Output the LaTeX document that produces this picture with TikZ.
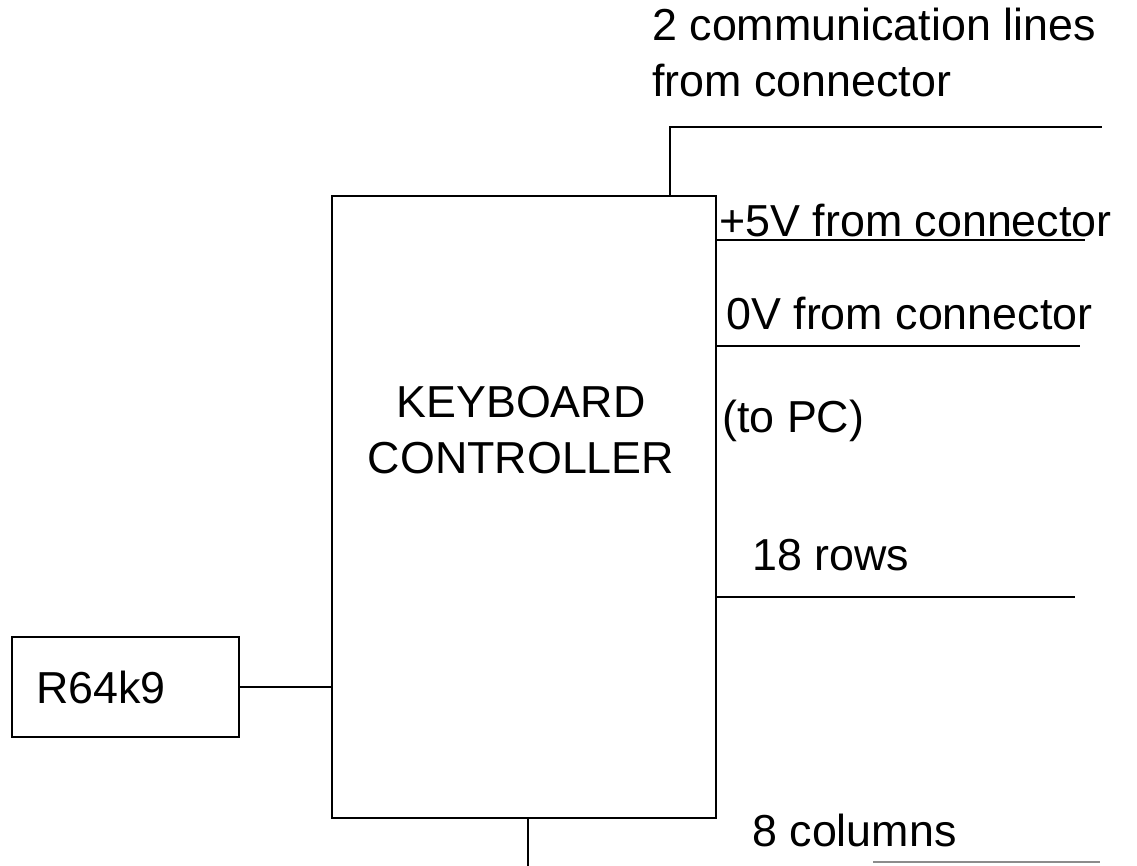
\documentclass[tikz,border=0pt]{standalone}
\usepackage{fontspec}
\setmainfont{Liberation Sans}
\usepackage{tikz}
\usetikzlibrary{positioning}

\begin{document}
\begin{tikzpicture}[x=0.02cm,y=-0.02cm,
  every node/.style={font=\fontsize{25.5}{31.5}\selectfont},
  blockbox/.style={draw,line width=1pt,inner sep=0pt},
  txt/.style={inner sep=0pt,anchor=base west}]
\useasboundingbox (0,0) rectangle (1137,866);
% blocks
\node[blockbox,minimum width=7.68cm,minimum height=12.44cm](kc) at (524,507){};
\node[align=center,inner sep=0pt](kclabel) at (521,430){KEYBOARD\\CONTROLLER};
\node[blockbox,minimum width=4.54cm,minimum height=2cm,text width=3.58cm,inner xsep=0.48cm,align=left](res) at (125.5,687){R64k9};
\draw[line width=1pt](res.east)--(res.east -| kc.west);
% lines to the connector
\coordinate(commbend) at (670,127);
\coordinate(comm) at (1102,127);
\coordinate(pfive) at (1085,240);
\coordinate(zerov) at (1080,346);
\coordinate(rows) at (1075,597);
\coordinate(colsdown) at (528,866);
\coordinate(colsa) at (873,862);
\coordinate(colsb) at (1100,862);
\draw[line width=1pt](kc.north -| commbend)|-(comm);
\draw[line width=1pt](kc.east |- pfive)--(pfive);
\draw[line width=1pt](kc.east |- zerov)--(zerov);
\draw[line width=1pt](kc.east |- rows)--(rows);
\draw[line width=1pt](kc.south -| colsdown)--(colsdown);
\draw[line width=1pt,black!45](colsa)--(colsb);
% labels
\node[align=left,inner sep=0pt,anchor=north west](commlabel) at (652,8){2 communication lines\\from connector};
\node[txt](pfivelabel) at (719,236){+5V from connector};
\node[txt](zerovlabel) at (726,329){0V from connector};
\node[txt](pclabel) at (722,432){(to PC)};
\node[txt](rowslabel) at (752,570){18 rows};
\node[txt](colslabel) at (752,846){8 columns};
\end{tikzpicture}
\end{document}
